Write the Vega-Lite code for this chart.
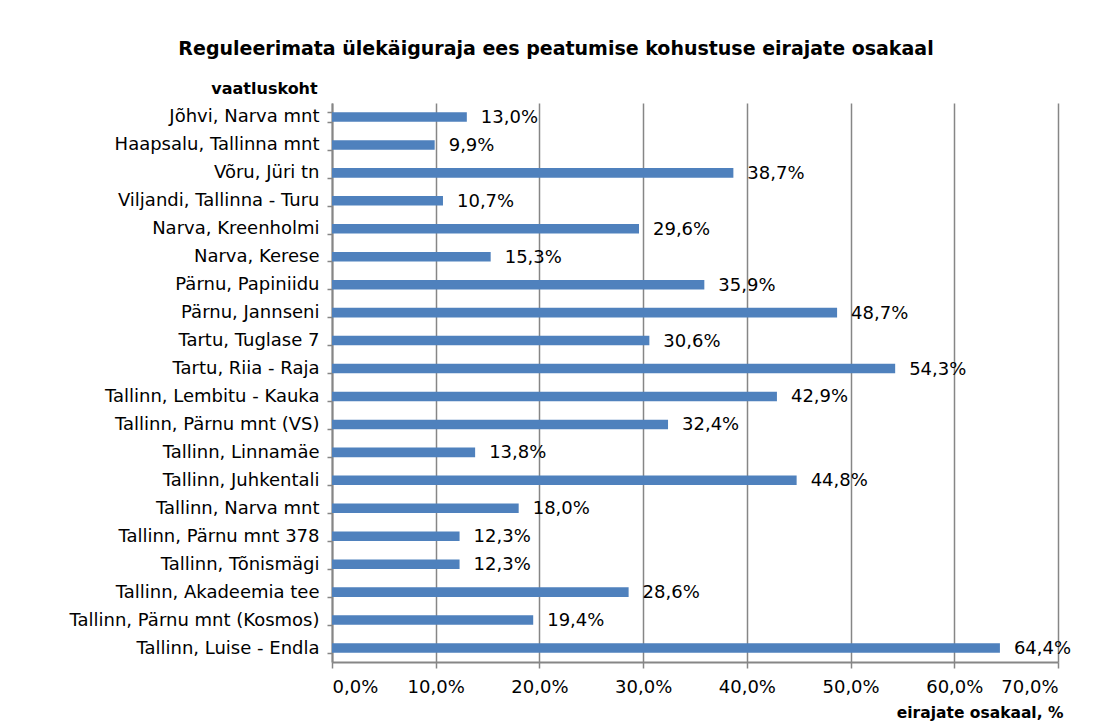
{
  "$schema": "https://vega.github.io/schema/vega-lite/v6.json",
  "autosize": {"type": "none"},
  "padding": {"left": 332, "top": 103, "right": 37, "bottom": 60},
  "width": 726,
  "height": 559,
  "background": "white",
  "config": {
    "locale": {"number": {"decimal": ",", "thousands": " ", "grouping": [3], "currency": ["", " €"]}},
    "view": {"stroke": null},
    "font": "DejaVu Sans"
  },
  "title": {
    "text": "Reguleerimata ülekäiguraja  ees peatumise kohustuse eirajate osakaal",
    "fontSize": 19,
    "fontWeight": "bold",
    "font": "DejaVu Sans",
    "color": "black",
    "anchor": "middle",
    "dx": -139,
    "dy": 20,
    "baseline": "alphabetic",
    "offset": 26
  },
  "data": {
    "values": [
      {"koht": "Jõhvi, Narva mnt", "osakaal": 0.130},
      {"koht": "Haapsalu, Tallinna mnt", "osakaal": 0.099},
      {"koht": "Võru, Jüri tn", "osakaal": 0.387},
      {"koht": "Viljandi, Tallinna - Turu", "osakaal": 0.107},
      {"koht": "Narva, Kreenholmi", "osakaal": 0.296},
      {"koht": "Narva, Kerese", "osakaal": 0.153},
      {"koht": "Pärnu, Papiniidu", "osakaal": 0.359},
      {"koht": "Pärnu, Jannseni", "osakaal": 0.487},
      {"koht": "Tartu, Tuglase 7", "osakaal": 0.306},
      {"koht": "Tartu, Riia - Raja", "osakaal": 0.543},
      {"koht": "Tallinn, Lembitu - Kauka", "osakaal": 0.429},
      {"koht": "Tallinn, Pärnu mnt (VS)", "osakaal": 0.324},
      {"koht": "Tallinn, Linnamäe", "osakaal": 0.138},
      {"koht": "Tallinn, Juhkentali", "osakaal": 0.448},
      {"koht": "Tallinn, Narva mnt", "osakaal": 0.180},
      {"koht": "Tallinn, Pärnu mnt 378", "osakaal": 0.123},
      {"koht": "Tallinn, Tõnismägi", "osakaal": 0.123},
      {"koht": "Tallinn, Akadeemia tee", "osakaal": 0.286},
      {"koht": "Tallinn, Pärnu mnt (Kosmos)", "osakaal": 0.194},
      {"koht": "Tallinn, Luise - Endla", "osakaal": 0.644}
    ]
  },
  "encoding": {
    "y": {
      "field": "koht",
      "type": "nominal",
      "sort": null,
      "scale": {"paddingInner": 0.66, "paddingOuter": 0.33},
      "axis": {
        "title": "vaatluskoht",
        "titleAngle": 0,
        "titleX": -68,
        "titleY": -15,
        "titleAlign": "center",
        "titleBaseline": "middle",
        "titleFontSize": 16,
        "titleFontWeight": "bold",
        "titleColor": "black",
        "titleFont": "DejaVu Sans",
        "labelFontSize": 18,
        "labelColor": "black",
        "labelFont": "DejaVu Sans",
        "labelPadding": 8,
        "labelLimit": 0,
        "tickBand": "extent",
        "tickSize": 5,
        "tickColor": "#868686",
        "tickWidth": 1.5,
        "domainColor": "#868686",
        "domainWidth": 2
      }
    },
    "x": {
      "field": "osakaal",
      "type": "quantitative",
      "scale": {"domain": [0, 0.7], "nice": false},
      "axis": {
        "format": ".1%",
        "values": [0, 0.1, 0.2, 0.3, 0.4, 0.5, 0.6, 0.7],
        "grid": true,
        "gridColor": "#868686",
        "gridWidth": 1.5,
        "tickColor": "#868686",
        "tickWidth": 1.5,
        "tickSize": 6,
        "domainColor": "#868686",
        "domainWidth": 2,
        "labelFontSize": 18,
        "labelColor": "black",
        "labelFont": "DejaVu Sans",
        "labelPadding": 10,
        "title": "eirajate osakaal, %",
        "titleX": 731,
        "titleY": 50,
        "titleAlign": "right",
        "titleBaseline": "middle",
        "titleFontSize": 15.5,
        "titleFontWeight": "bold",
        "titleColor": "black",
        "titleFont": "DejaVu Sans"
      }
    }
  },
  "layer": [
    {"mark": {"type": "bar", "color": "#4F81BD"}},
    {
      "mark": {"type": "text", "align": "left", "baseline": "middle", "dx": 14, "dy": 1, "fontSize": 18, "color": "black", "font": "DejaVu Sans"},
      "encoding": {"text": {"field": "osakaal", "type": "quantitative", "format": ".1%"}}
    }
  ]
}
